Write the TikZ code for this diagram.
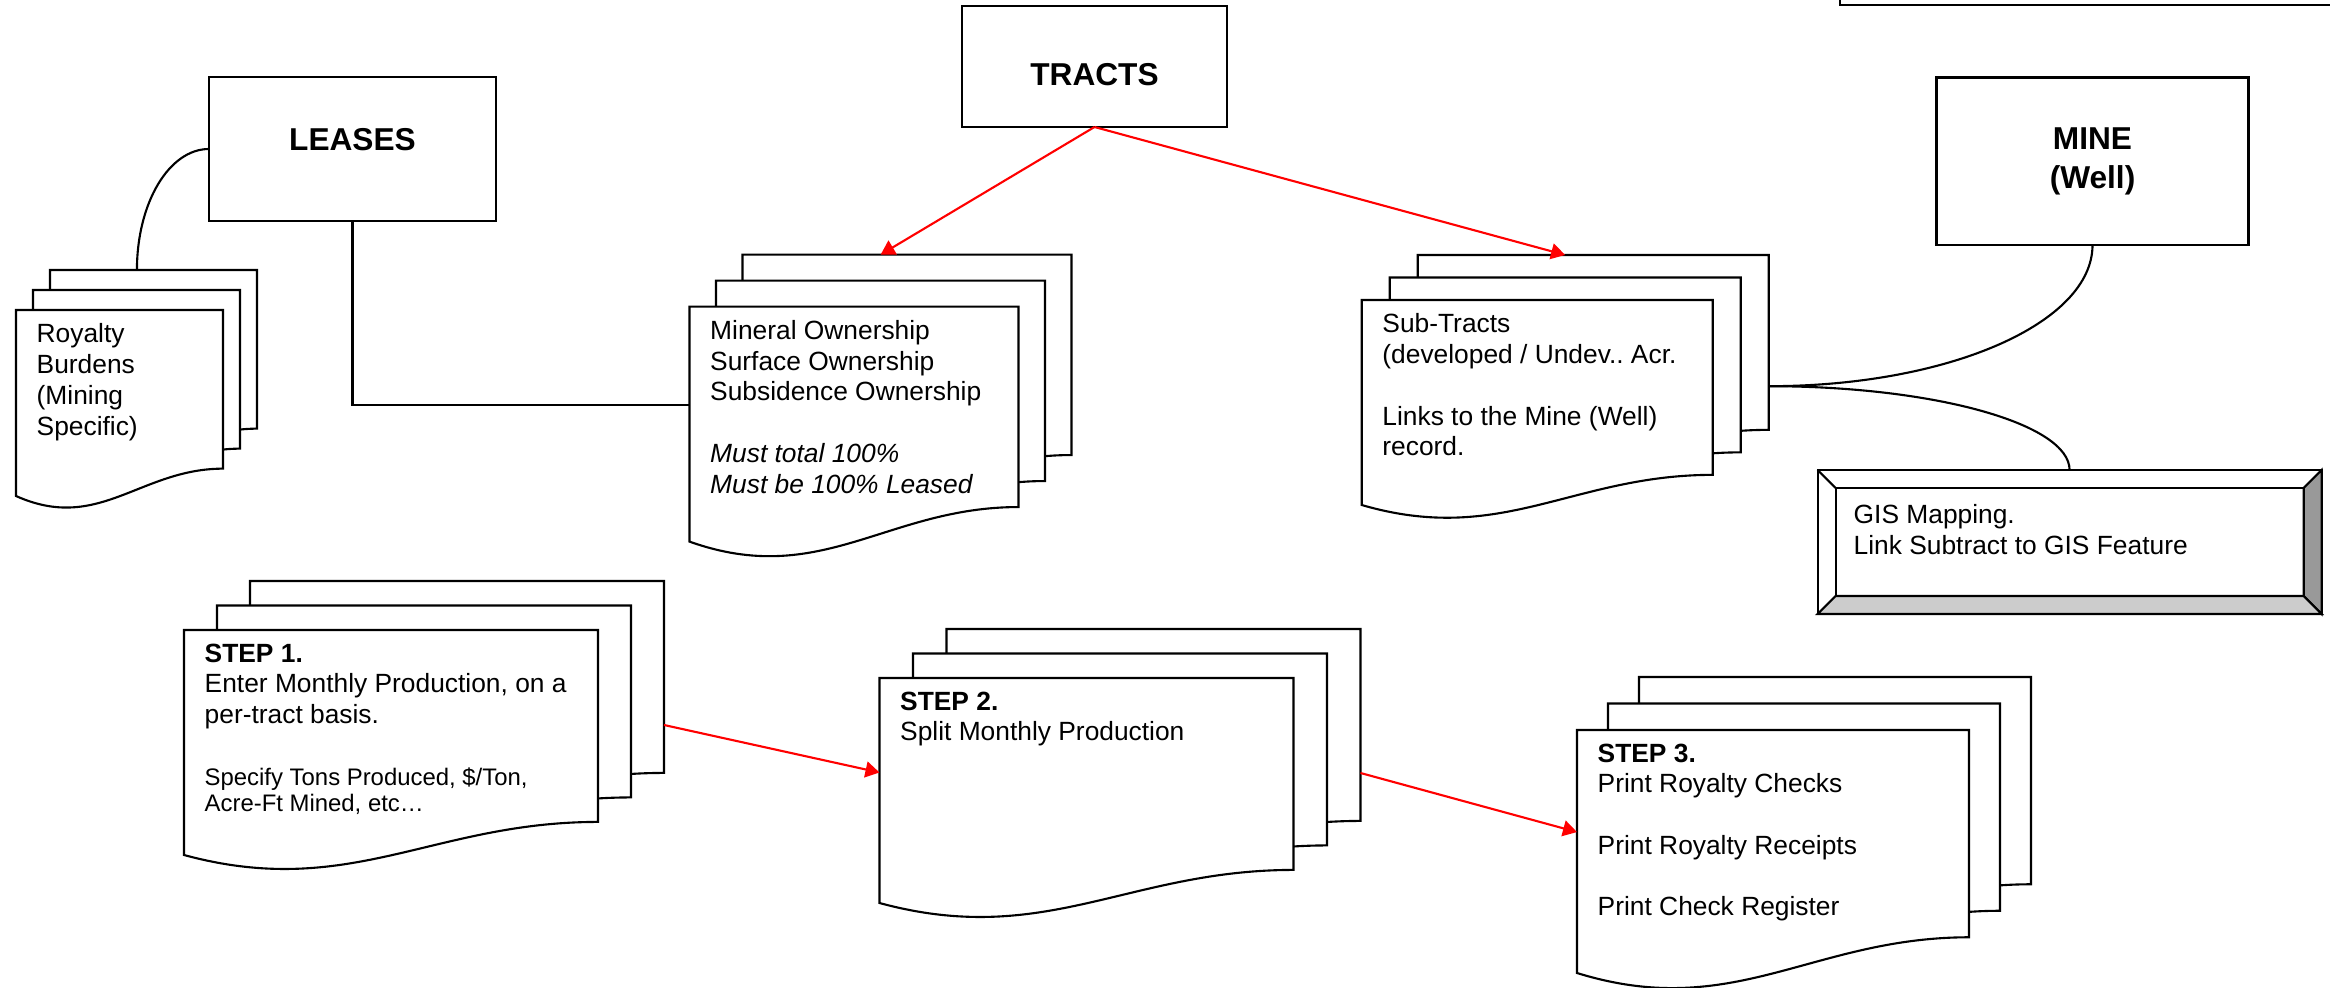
\documentclass[tikz,border=0pt]{standalone}
\usepackage{fontspec}
\setmainfont{Liberation Sans}
\usetikzlibrary{calc,arrows.meta}
\frenchspacing

\definecolor{bevdark}{HTML}{999999}
\definecolor{bevlight}{HTML}{CCCCCC}

\newcommand{\bodyfont}{\fontsize{7.5}{8.75}\selectfont}
\newcommand{\notefont}{\fontsize{6.8}{7.3}\selectfont}
\newcommand{\headfont}{\fontsize{9}{11}\selectfont\bfseries}

\tikzset{
  box/.style={draw, line width=0.6pt, inner sep=0pt, outer sep=0pt, align=center, font=\headfont},
  pagearea/.style={inner sep=0pt, outer sep=0pt},
  page/.style={draw, fill=white, line width=0.6pt},
  pagetext/.style={anchor=north west, align=left, inner xsep=0.2cm, inner ysep=0.13cm, font=\bodyfont},
  link/.style={line width=0.6pt},
  flow/.style={->, red, line width=0.6pt}
}

% one sheet: name, x, y (top left), width, height
\newcommand{\docpage}[5]{%
  \node[pagearea, minimum width=#4cm, minimum height=#5cm, anchor=north west] (#1) at (#2,#3) {};
  \draw[page] (#1.north west) -- (#1.north east) -- ++(0,-0.853*#5)
    .. controls +(-0.4*#4,0) and +(0.4*#4,-0.2*#5) .. (#1.south west) -- cycle;
}
% stack of three sheets, back to front
\newcommand{\docstack}[7]{%
  \foreach \k/\s in {3/2,2/1,1/0}{
    \docpage{#1-\k}{#2+\s*#6}{#3+\s*#7}{#4}{#5}
  }
}

\begin{document}
\begin{tikzpicture}[>={Triangle[length=0.14cm,width=0.16cm]}]
  \useasboundingbox (0,0) rectangle (23.3,9.87);

  % boxes
  \node[box, minimum width=6cm, minimum height=1cm, anchor=south west] (topbox) at (18.40,9.82) {};
  \node[box, minimum width=2.87cm, minimum height=1.44cm, text depth=0.2cm] (leases) at (3.525,8.38) {LEASES};
  \node[box, minimum width=2.65cm, minimum height=1.21cm, text height=0.377cm] (tracts) at (10.945,9.205) {TRACTS};
  \node[box, minimum width=3.12cm, minimum height=1.675cm] (mine) at (20.925,8.2575) {MINE\\(Well)};

  % document stacks
  \docstack{roy}{0.16}{6.77}{2.07}{1.86}{0.17}{0.20}
  \docstack{min}{6.895}{6.804}{3.29}{2.35}{0.265}{0.26}
  \docstack{sub}{13.617}{6.87}{3.51}{2.05}{0.28}{0.225}
  \docstack{s1}{1.84}{3.57}{4.14}{2.25}{0.33}{0.245}
  \docstack{s2}{8.795}{3.09}{4.14}{2.25}{0.335}{0.245}
  \docstack{s3}{15.77}{2.57}{3.92}{2.43}{0.31}{0.265}

  \node[pagetext] (roy-txt) at (roy-1.north west) {Royalty\\Burdens\\(Mining\\Specific)};
  \node[pagetext] (min-txt) at (min-1.north west) {Mineral Ownership\\Surface Ownership\\Subsidence Ownership\\[8.75pt]
    \textit{Must total 100\%}\\\textit{Must be 100\% Leased}};
  \node[pagetext] (sub-txt) at (sub-1.north west) {Sub-Tracts\\(developed / Undev.. Acr.\\[8.75pt]
    Links to the Mine (Well)\\record.};
  \node[pagetext] (s1-txt) at (s1-1.north west) {\textbf{STEP 1.}\\Enter Monthly Production, on a\\per-tract basis.};
  \node[pagetext, font=\notefont] (s1-note) at ([yshift=-1.245cm]s1-1.north west) {Specify Tons Produced, \$/Ton,\\Acre-Ft Mined, etc…};
  \node[pagetext] (s2-txt) at (s2-1.north west) {\textbf{STEP 2.}\\Split Monthly Production};
  \node[pagetext] (s3-txt) at (s3-1.north west) {\textbf{STEP 3.}\\Print Royalty Checks\\[8.75pt]
    Print Royalty Receipts\\[8.75pt]Print Check Register};

  % GIS box with bevel
  \node[box, minimum width=5.04cm, minimum height=1.44cm] (gis) at (20.6955,4.45) {};
  \draw[link, fill=bevdark] (gis.north east) -- (gis.south east) -- ([shift={(-0.18,0.18)}]gis.south east)
    -- ([shift={(-0.18,-0.18)}]gis.north east) -- cycle;
  \draw[link, fill=bevlight] (gis.south west) -- (gis.south east) -- ([shift={(-0.18,0.18)}]gis.south east)
    -- ([shift={(0.18,0.18)}]gis.south west) -- cycle;
  \draw[link] ([shift={(0.18,0.18)}]gis.south west) rectangle ([shift={(-0.18,-0.18)}]gis.north east);
  \draw[link] (gis.north west) -- ([shift={(0.18,-0.18)}]gis.north west);
  \node[pagetext] (gis-txt) at ([shift={(0.154,-0.21)}]gis.north west) {GIS Mapping.\\Link Subtract to GIS Feature};

  % connectors
  \draw[link] (leases.south) |- ($(min-1.north west)!0.42!(min-1.south west)$);
  \draw[link] (leases.west) .. controls +(-0.40,0) and +(0,0.67) .. ($(roy-3.north west)!0.42!(roy-3.north east)$);
  \draw[flow] (tracts.south) -- ($(min-3.north west)!0.42!(min-3.north east)$);
  \draw[flow] (tracts.south) -- ($(sub-3.north west)!0.42!(sub-3.north east)$);
  \coordinate (subR) at ($(sub-3.north east)!0.64!(sub-3.south east)$);
  \draw[link] (subR) .. controls +(1.8,0) and +(0,-0.78) .. (mine.south);
  \draw[link] (subR) .. controls +(1.66,0) and +(0,0.46) .. (gis.north);
  \draw[flow] ($(s1-3.north east)!0.64!(s1-3.south east)$) -- ($(s2-1.north west)!0.42!(s2-1.south west)$);
  \draw[flow] ($(s2-3.north east)!0.64!(s2-3.south east)$) -- ($(s3-1.north west)!0.42!(s3-1.south west)$);
\end{tikzpicture}
\end{document}
